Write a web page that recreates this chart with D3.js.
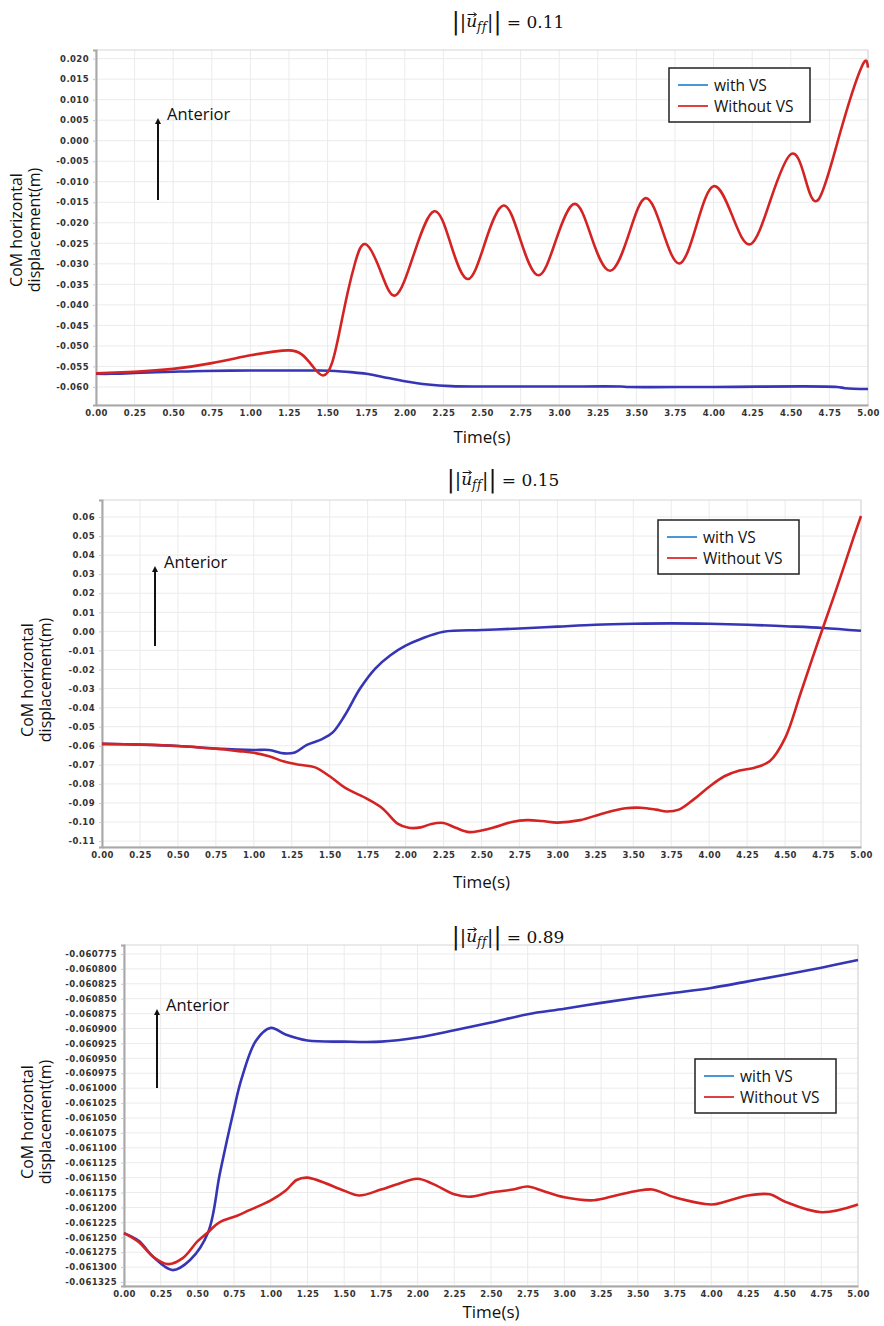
<!DOCTYPE html>
<html>
<head>
<meta charset="utf-8">
<script src="https://cdn.jsdelivr.net/npm/d3@7/dist/d3.min.js"></script>
<style>
  body { margin: 0; background: #fff; }
</style>
</head>
<body>
<svg id="chart" width="884" height="1326"></svg>
<script>
// ---------- data ----------
const xTicks = [0, 0.25, 0.5, 0.75, 1, 1.25, 1.5, 1.75, 2, 2.25, 2.5, 2.75, 3, 3.25, 3.5, 3.75, 4, 4.25, 4.5, 4.75, 5];
const seriesNames = ["with VS", "Without VS"];

// panel 1, ||u_ff|| = 0.11
const p1YTicks = [0.020, 0.015, 0.010, 0.005, 0.000, -0.005, -0.010, -0.015, -0.020, -0.025, -0.030, -0.035, -0.040, -0.045, -0.050, -0.055, -0.060];
const p1WithT = [0, 0.1, 0.25, 0.5, 0.7, 1.0, 1.25, 1.45, 1.55, 1.65, 1.75, 1.85, 2.0, 2.15, 2.3, 2.5, 3.0, 3.4, 3.45, 4.0, 4.8, 4.85, 5.0];
const p1WithV = [-0.0568, -0.0568, -0.0566, -0.0563, -0.0561, -0.0560, -0.0560, -0.0560, -0.0561, -0.0564, -0.0568, -0.0575, -0.0586, -0.0594, -0.0598, -0.0599, -0.0599, -0.0599, -0.0600, -0.0600, -0.0600, -0.0603, -0.0605];
const p1WithoutT = [0, 0.25, 0.5, 0.75, 1.0, 1.15, 1.25, 1.33, 1.40, 1.47, 1.53, 1.58, 1.63, 1.68, 1.744, 1.84, 1.94, 2.06, 2.19, 2.30, 2.41, 2.52, 2.64, 2.75, 2.866, 2.98, 3.10, 3.21, 3.33, 3.45, 3.56, 3.67, 3.78, 3.89, 4.0, 4.12, 4.24, 4.37, 4.5, 4.59, 4.68, 4.82, 4.96, 5.0];
const p1WithoutV = [-0.0567, -0.0563, -0.0556, -0.0542, -0.0523, -0.0514, -0.0511, -0.0520, -0.0548, -0.0572, -0.0540, -0.0460, -0.0370, -0.0295, -0.0252, -0.0315, -0.0377, -0.0275, -0.0172, -0.0255, -0.0337, -0.0248, -0.0158, -0.0243, -0.0328, -0.0241, -0.0154, -0.0236, -0.0317, -0.0229, -0.0140, -0.0220, -0.0299, -0.0205, -0.0111, -0.0182, -0.0252, -0.0143, -0.0033, -0.0088, -0.0143, 0.0020, 0.0181, 0.0178];

// panel 2, ||u_ff|| = 0.15
const p2YTicks = [0.06, 0.05, 0.04, 0.03, 0.02, 0.01, 0.00, -0.01, -0.02, -0.03, -0.04, -0.05, -0.06, -0.07, -0.08, -0.09, -0.10, -0.11];
const p2WithT = [0, 0.25, 0.5, 0.75, 1.0, 1.1, 1.2, 1.27, 1.35, 1.45, 1.52, 1.6, 1.7, 1.8, 1.9, 2.0, 2.1, 2.25, 2.5, 2.75, 3.0, 3.25, 3.5, 3.75, 4.0, 4.25, 4.5, 4.75, 5.0];
const p2WithV = [-0.0590, -0.0594, -0.0601, -0.0614, -0.0622, -0.0622, -0.0640, -0.0635, -0.0595, -0.0565, -0.0530, -0.0440, -0.0300, -0.0195, -0.0125, -0.0075, -0.0040, -0.0002, 0.0007, 0.0015, 0.0025, 0.0035, 0.0040, 0.0042, 0.0040, 0.0035, 0.0027, 0.0018, 0.0003];
const p2WithoutT = [0, 0.25, 0.5, 0.75, 0.9, 1.0, 1.1, 1.2, 1.3, 1.4, 1.5, 1.6, 1.75, 1.85, 1.95, 2.02, 2.1, 2.17, 2.25, 2.33, 2.42, 2.55, 2.7, 2.8, 2.9, 3.0, 3.15, 3.3, 3.45, 3.55, 3.65, 3.72, 3.8, 3.9, 4.0, 4.1, 4.2, 4.3, 4.4, 4.5, 4.6, 4.68, 4.75, 4.85, 4.95, 5.0];
const p2WithoutV = [-0.0590, -0.0594, -0.0601, -0.0616, -0.0628, -0.0637, -0.0655, -0.0683, -0.0700, -0.0712, -0.0760, -0.0820, -0.0880, -0.0930, -0.1010, -0.1030, -0.1028, -0.1010, -0.1005, -0.1030, -0.1053, -0.1035, -0.1000, -0.0990, -0.0995, -0.1003, -0.0990, -0.0955, -0.0928, -0.0925, -0.0935, -0.0945, -0.0935, -0.0880, -0.0815, -0.0760, -0.0730, -0.0715, -0.0680, -0.0560, -0.0330, -0.0140, 0.0020, 0.0250, 0.0490, 0.0605];

// panel 3, ||u_ff|| = 0.89
const p3YTicks = [-0.060775, -0.060800, -0.060825, -0.060850, -0.060875, -0.060900, -0.060925, -0.060950, -0.060975, -0.061000, -0.061025, -0.061050, -0.061075, -0.061100, -0.061125, -0.061150, -0.061175, -0.061200, -0.061225, -0.061250, -0.061275, -0.061300, -0.061325];
const p3WithT = [0, 0.1, 0.2, 0.33, 0.45, 0.574, 0.654, 0.745, 0.80, 0.9, 1.0, 1.1, 1.25, 1.5, 1.75, 2.0, 2.25, 2.5, 2.75, 3.0, 3.25, 3.5, 3.75, 4.0, 4.25, 4.5, 4.75, 5.0];
const p3WithV = [-0.061243, -0.061256, -0.061283, -0.061305, -0.061288, -0.061241, -0.061142, -0.061040, -0.060985, -0.060920, -0.060899, -0.060910, -0.060920, -0.060922, -0.060922, -0.060915, -0.060903, -0.060890, -0.060876, -0.060867, -0.060857, -0.060848, -0.060840, -0.060832, -0.060821, -0.060810, -0.060798, -0.060785];
const p3WithoutT = [0, 0.1, 0.2, 0.30, 0.4, 0.5, 0.574, 0.65, 0.77, 0.85, 1.0, 1.1, 1.176, 1.25, 1.5, 1.6, 1.75, 1.85, 2.0, 2.1, 2.25, 2.35, 2.5, 2.65, 2.75, 2.85, 3.0, 3.2, 3.35, 3.5, 3.6, 3.75, 4.0, 4.1, 4.25, 4.4, 4.5, 4.75, 5.0];
const p3WithoutV = [-0.061243, -0.061258, -0.061283, -0.061295, -0.061285, -0.061257, -0.061241, -0.061225, -0.061214, -0.061205, -0.061188, -0.061172, -0.061154, -0.061150, -0.061172, -0.061180, -0.061170, -0.061162, -0.061152, -0.061160, -0.061178, -0.061182, -0.061175, -0.061170, -0.061165, -0.061172, -0.061183, -0.061188, -0.061180, -0.061172, -0.061170, -0.061183, -0.061195, -0.061190, -0.061180, -0.061178, -0.061190, -0.061208, -0.061195];

// ---------- drawing ----------
const svg = d3.select("#chart");
const lineColor = { "with VS": "#3535b5", "Without VS": "#d42323" };
const legendColor = { "with VS": "#4a97d8", "Without VS": "#e04040" };
const uiFont = "'Open Sans', 'DejaVu Sans', sans-serif";
const tickFont = "'DejaVu Sans', Verdana, sans-serif";

function zip(ts, vs) {
  return ts.map((t, i) => [t, vs[i]]);
}

function drawTitle(cx, cy, value) {
  const t = svg.append("text")
    .attr("x", cx).attr("y", cy)
    .attr("text-anchor", "middle")
    .attr("font-family", "'DejaVu Serif', 'Liberation Serif', serif")
    .attr("font-size", 17)
    .attr("fill", "#111")
    .style("font-variant-ligatures", "none");
  t.append("tspan").attr("font-size", 24).attr("dy", 2).text("|");
  t.append("tspan").attr("font-size", 19).attr("dy", -1).text("|");
  t.append("tspan").attr("font-style", "italic").attr("dy", -1).text("u");
  t.append("tspan").attr("font-style", "italic").attr("font-size", 12).attr("dy", 4)
    .attr("letter-spacing", 0.5).text("ff");
  t.append("tspan").attr("font-size", 19).attr("dy", -3).text("|");
  t.append("tspan").attr("font-size", 24).attr("dy", 1).text("|");
  t.append("tspan").attr("dy", -1).text(" = " + value);

  // vector arrow over the u
  const ext = t.node().getExtentOfChar(2);
  const ax0 = ext.x + 1.5, ax1 = ext.x + ext.width - 0.5, ay = ext.y + 3.5;
  svg.append("line").attr("x1", ax0).attr("x2", ax1 - 1).attr("y1", ay).attr("y2", ay)
    .attr("stroke", "#111").attr("stroke-width", 1);
  svg.append("path")
    .attr("d", `M${ax1 - 3},${ay - 2} L${ax1},${ay} L${ax1 - 3},${ay + 2}`)
    .attr("fill", "none").attr("stroke", "#111").attr("stroke-width", 1);
}

function drawPanel(cfg) {
  const g = svg.append("g");
  const x = d3.scaleLinear().domain([0, 5]).range([cfg.left, cfg.right]);
  const y = d3.scaleLinear().domain(cfg.yDomain).range([cfg.bottom, cfg.top]);

  // grid
  g.append("g").selectAll("line").data(xTicks).join("line")
    .attr("x1", d => x(d)).attr("x2", d => x(d))
    .attr("y1", cfg.top).attr("y2", cfg.bottom)
    .attr("stroke", "#ebebeb").attr("stroke-width", 1);
  g.append("g").selectAll("line").data(cfg.yTicks).join("line")
    .attr("x1", cfg.left).attr("x2", cfg.right)
    .attr("y1", d => y(d)).attr("y2", d => y(d))
    .attr("stroke", "#ebebeb").attr("stroke-width", 1);

  // frame
  g.append("rect")
    .attr("x", cfg.left).attr("y", cfg.top)
    .attr("width", cfg.right - cfg.left).attr("height", cfg.bottom - cfg.top)
    .attr("fill", "none").attr("stroke", "#d6d6d6").attr("stroke-width", 1);

  // axes
  const xAxis = g.append("g")
    .attr("transform", `translate(0,${cfg.bottom})`)
    .call(d3.axisBottom(x).tickValues(xTicks).tickFormat(d => d.toFixed(2)).tickSize(0).tickPadding(5));
  const yAxis = g.append("g")
    .attr("transform", `translate(${cfg.left},0)`)
    .call(d3.axisLeft(y).tickValues(cfg.yTicks).tickFormat(d => d.toFixed(cfg.decimals)).tickSize(3).tickPadding(4));
  [xAxis, yAxis].forEach(a => {
    a.select(".domain").attr("stroke", "#a8a8a8").attr("stroke-width", 2);
    a.selectAll(".tick line").attr("stroke", "#c8c8c8");
    a.selectAll("text")
      .attr("font-family", tickFont).attr("font-size", 8.5)
      .attr("font-weight", "bold").attr("fill", "#333")
      .attr("letter-spacing", 0.4);
  });

  // series
  const mkLine = curve => d3.line().x(d => x(d[0])).y(d => y(d[1])).curve(curve);
  g.append("path").datum(zip(cfg.withT, cfg.withV))
    .attr("d", mkLine(d3.curveCatmullRom.alpha(0.5))).attr("fill", "none")
    .attr("stroke", lineColor["with VS"]).attr("stroke-width", 2.6);
  g.append("path").datum(zip(cfg.withoutT, cfg.withoutV))
    .attr("d", mkLine(cfg.redCurve)).attr("fill", "none")
    .attr("stroke", lineColor["Without VS"]).attr("stroke-width", 2.6);

  // axis titles
  svg.append("text")
    .attr("x", (cfg.left + cfg.right) / 2).attr("y", cfg.timeY)
    .attr("text-anchor", "middle")
    .attr("font-family", "'Liberation Sans Narrow', " + uiFont)
    .attr("font-size", 17).attr("fill", "#111")
    .text("Time(s)");
  const yl = svg.append("text")
    .attr("transform", `translate(${cfg.yLabelX},${cfg.yLabelY}) rotate(-90)`)
    .attr("text-anchor", "middle")
    .attr("font-family", uiFont).attr("font-size", 16).attr("fill", "#111");
  yl.append("tspan").attr("x", 0).attr("dy", 0).text("CoM horizontal");
  yl.append("tspan").attr("x", 0).attr("dy", 18).text("displacement(m)");

  // anterior arrow
  svg.append("line")
    .attr("x1", cfg.arrowX).attr("x2", cfg.arrowX)
    .attr("y1", cfg.arrowY0).attr("y2", cfg.arrowY1 + 5)
    .attr("stroke", "#111").attr("stroke-width", 2);
  svg.append("path")
    .attr("d", `M${cfg.arrowX - 3},${cfg.arrowY1 + 6} L${cfg.arrowX},${cfg.arrowY1} L${cfg.arrowX + 3},${cfg.arrowY1 + 6} Z`)
    .attr("fill", "#111");
  svg.append("text")
    .attr("x", cfg.arrowX + 9).attr("y", cfg.arrowY1 + 2)
    .attr("font-family", uiFont).attr("font-size", 16.5).attr("fill", "#111")
    .text("Anterior");

  // legend
  const lg = svg.append("g").attr("transform", `translate(${cfg.legX},${cfg.legY})`);
  lg.append("rect").attr("width", 141).attr("height", 54)
    .attr("fill", "#fff").attr("stroke", "#222").attr("stroke-width", 1.5);
  seriesNames.forEach((name, i) => {
    const ry = 17 + i * 21;
    lg.append("line").attr("x1", 9).attr("x2", 39).attr("y1", ry).attr("y2", ry)
      .attr("stroke", legendColor[name]).attr("stroke-width", 2);
    lg.append("text").attr("x", 45).attr("y", ry + 5.5)
      .attr("font-family", uiFont).attr("font-size", 15.5).attr("fill", "#111")
      .text(name);
  });

  drawTitle(cfg.titleX, cfg.titleY, cfg.title);
}

drawPanel({
  left: 96, right: 868, top: 50, bottom: 405, yDomain: [-0.0644, 0.0221],
  yTicks: p1YTicks, decimals: 3,
  withT: p1WithT, withV: p1WithV, withoutT: p1WithoutT, withoutV: p1WithoutV,
  redCurve: d3.curveNatural,
  yLabelX: 22, yLabelY: 230, timeY: 443,
  arrowX: 158, arrowY0: 200, arrowY1: 118,
  legX: 669, legY: 68,
  titleX: 508, titleY: 27, title: "0.11"
});

drawPanel({
  left: 102, right: 861, top: 500, bottom: 847, yDomain: [-0.1131, 0.0689],
  yTicks: p2YTicks, decimals: 2,
  withT: p2WithT, withV: p2WithV, withoutT: p2WithoutT, withoutV: p2WithoutV,
  redCurve: d3.curveCatmullRom.alpha(0.5),
  yLabelX: 33, yLabelY: 680, timeY: 888,
  arrowX: 155, arrowY0: 646, arrowY1: 566,
  legX: 658, legY: 520,
  titleX: 503, titleY: 485, title: "0.15"
});

drawPanel({
  left: 124, right: 858, top: 945, bottom: 1286, yDomain: [-0.0613317, -0.06076],
  yTicks: p3YTicks, decimals: 6,
  withT: p3WithT, withV: p3WithV, withoutT: p3WithoutT, withoutV: p3WithoutV,
  redCurve: d3.curveCatmullRom.alpha(0.5),
  yLabelX: 33, yLabelY: 1122, timeY: 1318,
  arrowX: 157, arrowY0: 1088, arrowY1: 1009,
  legX: 695, legY: 1059,
  titleX: 508, titleY: 942, title: "0.89"
});
</script>
</body>
</html>
